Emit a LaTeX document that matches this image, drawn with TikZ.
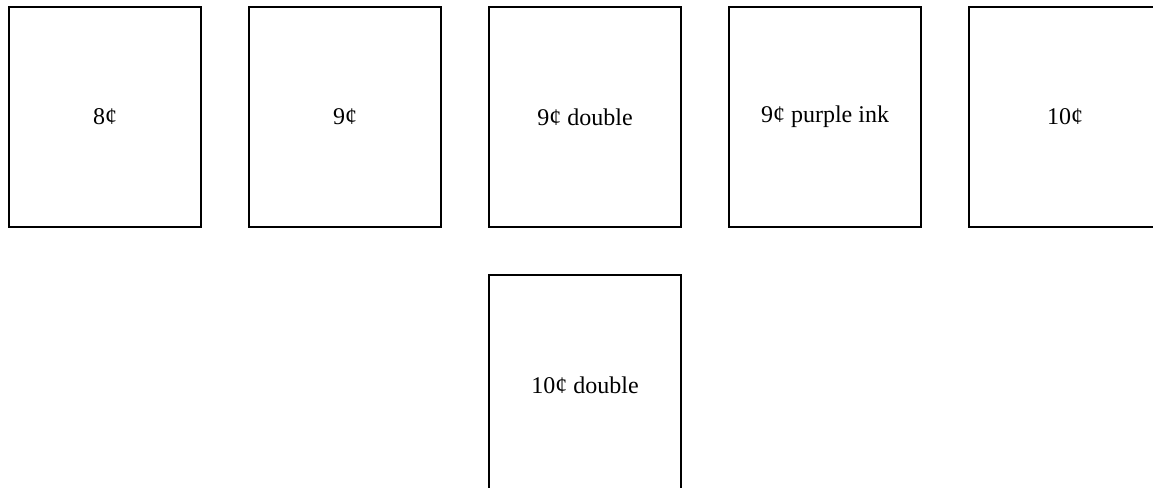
\documentclass[tikz,border=0pt]{standalone}
\usepackage{fontspec}
\setmainfont{Liberation Serif}
\usetikzlibrary{positioning}
\tikzset{
  stamp/.style={rectangle, minimum width=144pt, minimum height=165pt, text centered, draw=black, line width=1.6pt, outer sep=0pt, font=\fontsize{18}{21.6}\selectfont}
}
\begin{document}
\begin{tikzpicture}[x=0.75pt, y=0.75pt, node distance=36pt and 36pt]

  \useasboundingbox (0,0) rectangle (1153,-488);
  \clip (0,0) rectangle (1153,-488);

  \node (c8) [stamp] at (105,-117) {8¢};
  \node (c9) [stamp, right=of c8] {9¢};
  \node (c9double) [stamp, right=of c9] {9¢ double};
  \node (c9purple) [stamp, right=of c9double] {9¢ purple ink};
  \node (c10) [stamp, right=of c9purple] {10¢};
  \node (c10double) [stamp, below=of c9double] {10¢ double};

\end{tikzpicture}
\end{document}
